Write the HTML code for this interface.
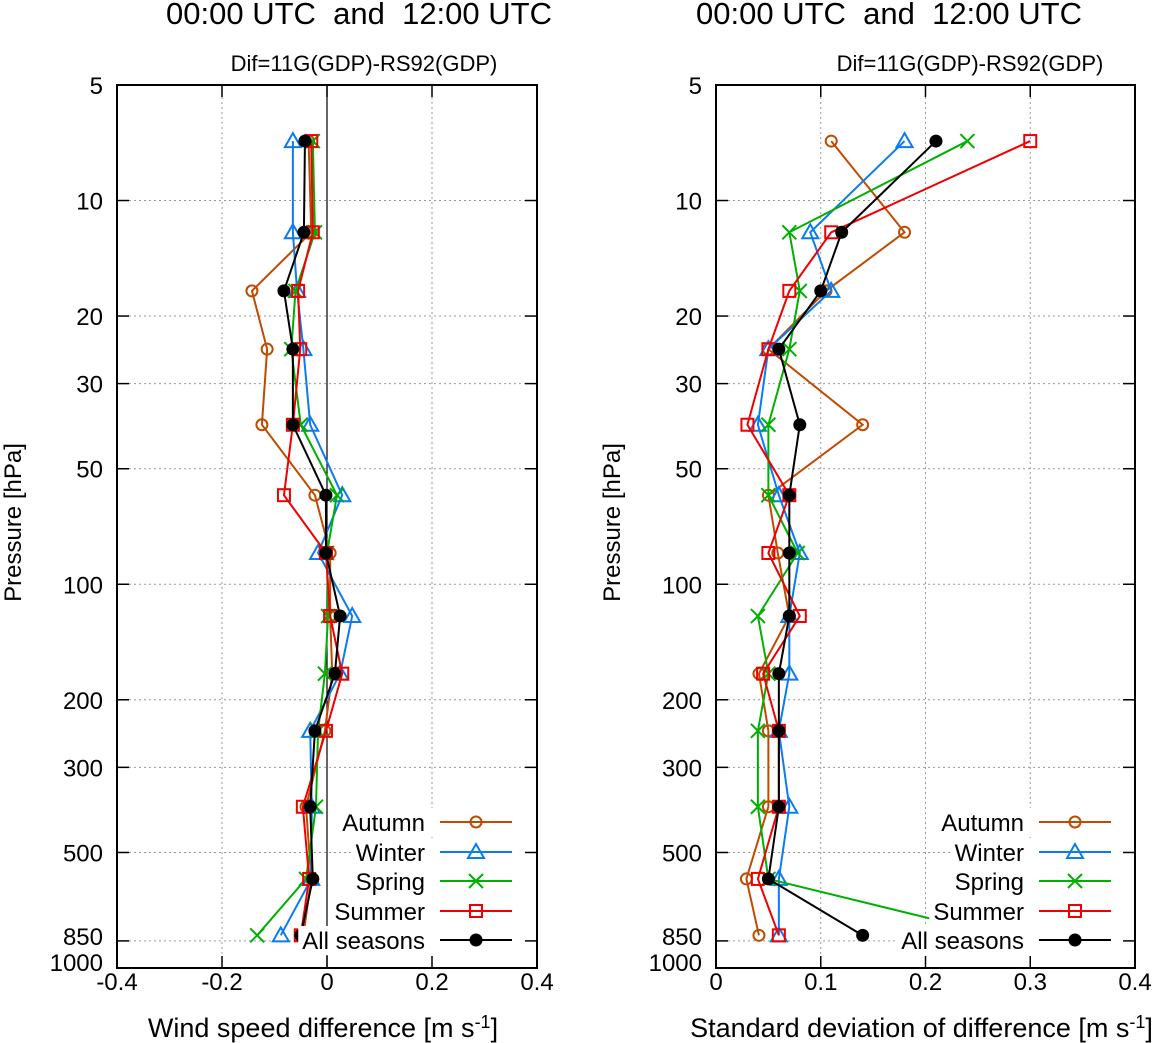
<!DOCTYPE html>
<html><head><meta charset="utf-8"><style>
html,body{margin:0;padding:0;background:#fff;}
svg{display:block;font-family:"Liberation Sans",Arial,sans-serif;}
text{white-space:pre;}
</style></head><body>
<svg id="chart" width="1154" height="1043" viewBox="0 0 1154 1043">
<g id="root"></g>
</svg>
<script>
// Shared data
const pressures = [7.0, 12.1, 17.2, 24.4, 38.4, 58.6, 82.9, 121, 171, 241, 380, 586, 822];
const seasonNames = ["Autumn", "Winter", "Spring", "Summer", "All seasons"];
const yTickValues = [5, 10, 20, 30, 50, 100, 200, 300, 500, 850, 1000];
// Left panel: mean wind speed difference
const meanAutumn = [-0.035, -0.03, -0.143, -0.114, -0.124, -0.023, 0.006, 0.006, 0.01, -0.004, -0.04, -0.03, -0.045];
const meanWinter = [-0.065, -0.065, -0.057, -0.045, -0.032, 0.029, -0.017, 0.048, 0.025, -0.032, -0.029, -0.03, -0.088];
const meanSpring = [-0.027, -0.023, -0.06, -0.068, -0.05, 0.019, 0.0, 0.002, -0.004, -0.017, -0.021, -0.04, -0.133];
const meanSummer = [-0.03, -0.027, -0.055, -0.051, -0.065, -0.082, -0.002, 0.006, 0.029, -0.002, -0.046, -0.034, -0.05];
const meanAll = [-0.042, -0.044, -0.082, -0.065, -0.065, -0.002, -0.002, 0.025, 0.015, -0.023, -0.032, -0.027, -0.05];
const leftXTicks = [-0.4, -0.2, 0, 0.2, 0.4];
const leftXLabels = ["-0.4", "-0.2", "0", "0.2", "0.4"];
// Right panel: standard deviation of difference
const sdAutumn = [0.11, 0.18, 0.105, 0.05, 0.14, 0.05, 0.059, 0.07, 0.041, 0.05, 0.05, 0.029, 0.041];
const sdWinter = [0.18, 0.09, 0.11, 0.05, 0.04, 0.06, 0.08, 0.07, 0.07, 0.06, 0.07, 0.06, 0.06];
const sdSpring = [0.24, 0.07, 0.08, 0.07, 0.05, 0.05, 0.078, 0.04, 0.05, 0.04, 0.04, 0.05, 0.27];
const sdSummer = [0.30, 0.11, 0.07, 0.05, 0.03, 0.07, 0.05, 0.08, 0.045, 0.06, 0.06, 0.04, 0.06];
const sdAll = [0.21, 0.12, 0.10, 0.06, 0.08, 0.07, 0.07, 0.07, 0.06, 0.06, 0.06, 0.05, 0.14];
const rightXTicks = [0, 0.1, 0.2, 0.3, 0.4];
const rightXLabels = ["0", "0.1", "0.2", "0.3", "0.4"];

const NS = "http://www.w3.org/2000/svg";
const root = document.getElementById("root");
const colors = ["#c04a00", "#0a7cf0", "#00b000", "#f00000", "#000000"];
const markers = ["circle", "triangle", "cross", "square", "dot"];
const TOP = 85, BOT = 968;
function yScale(p) { return TOP + (BOT - TOP) * Math.log10(p / 5) / Math.log10(1000 / 5); }
function mk(tag, attrs, parent) {
  const e = document.createElementNS(NS, tag);
  for (const k in attrs) e.setAttribute(k, attrs[k]);
  (parent || root).appendChild(e);
  return e;
}
function marker(type, x, y, c, g) {
  let e;
  if (type === "circle") e = mk("circle", {cx: x, cy: y, r: 5.5, fill: "none", stroke: c, "stroke-width": 2}, g);
  else if (type === "triangle") e = mk("polygon", {points: `${x},${y-8} ${x-8},${y+6} ${x+8},${y+6}`, fill: "none", stroke: c, "stroke-width": 2}, g);
  else if (type === "cross") e = mk("path", {d: `M${x-7},${y-7}L${x+7},${y+7}M${x-7},${y+7}L${x+7},${y-7}`, stroke: c, "stroke-width": 2}, g);
  else if (type === "square") e = mk("rect", {x: x-6, y: y-6, width: 12, height: 12, fill: "none", stroke: c, "stroke-width": 2}, g);
  else e = mk("circle", {cx: x, cy: y, r: 6.5, fill: c}, g);
  
  
  return e;
}

function panel(opt) {
  const L = opt.left, R = opt.right;
  const xScale = v => L + (v - opt.xmin) / (opt.xmax - opt.xmin) * (R - L);
  const g = mk("g", {});
  
  
  const clipId = opt.name + "-clip";
  const cp = mk("clipPath", {id: clipId}, g);
  mk("rect", {x: L, y: TOP, width: R - L, height: BOT - TOP}, cp);
  // title
  const t = mk("text", {x: opt.titleX, y: 24, "text-anchor": "middle", "font-size": 31}, g);
  t.textContent = "00:00 UTC  and  12:00 UTC";
  
  
  const st = mk("text", {x: opt.subX, y: 71, "text-anchor": "middle", "font-size": 22}, g);
  st.textContent = "Dif=11G(GDP)-RS92(GDP)";
  
  
  // grid
  const grid = mk("g", {stroke: "#999", "stroke-width": 1, "stroke-dasharray": "2,3"}, g);
  
  
  opt.xticks.forEach(v => { if (v > opt.xmin && v < opt.xmax && v !== 0) mk("line", {x1: xScale(v), x2: xScale(v), y1: TOP + 12, y2: BOT - 12}, grid); });
  yTickValues.forEach(p => { if (p > 5 && p < 1000) mk("line", {x1: L + 12, x2: R - 12, y1: yScale(p), y2: yScale(p)}, grid); });
  if (opt.zeroLine) {
    const z = mk("line", {x1: xScale(0), x2: xScale(0), y1: TOP, y2: BOT, stroke: "#000", "stroke-width": 1.2}, g);
    
    
  }
  // series
  const sg = mk("g", {"clip-path": `url(#${clipId})`}, g);
  opt.series.forEach((vals, i) => {
    const pts = vals.map((v, j) => `${xScale(v)},${yScale(pressures[j])}`).join(" ");
    const pl = mk("polyline", {points: pts, fill: "none", stroke: colors[i], "stroke-width": 2}, sg);
    
    
    vals.forEach((v, j) => marker(markers[i], xScale(v), yScale(pressures[j]), colors[i], sg));
  });
  // legend
  const lg = mk("g", {}, g);
  
  
  const rowY = [822, 852, 881, 911, 940];
  const textX = L + 308;
  seasonNames.forEach((n, i) => {
    const ent = mk("g", {}, lg);
    
    
    const tx = mk("text", {x: textX, y: rowY[i] + 9, "text-anchor": "end", "font-size": 24}, ent);
    tx.textContent = n;
    const w = tx.getComputedTextLength ? tx.getComputedTextLength() : 100;
    const bg = mk("rect", {x: textX - w - 4, y: rowY[i] - 14, width: R - (textX - w - 4) - 2, height: 29, fill: "#fff"}, ent);
    ent.insertBefore(bg, tx);
    mk("line", {x1: textX + 15, x2: textX + 87, y1: rowY[i], y2: rowY[i], stroke: colors[i], "stroke-width": 2}, ent);
    marker(markers[i], textX + 51, rowY[i], colors[i], ent);
  });
  // frame
  const fr = mk("rect", {x: L, y: TOP, width: R - L, height: BOT - TOP, fill: "none", stroke: "#000", "stroke-width": 2}, g);
  
  
  // x ticks
  const xa = mk("g", {}, g);
  
  
  opt.xticks.forEach((v, i) => {
    const x = xScale(v);
    mk("line", {x1: x, x2: x, y1: BOT, y2: BOT - 12, stroke: "#000", "stroke-width": 1.5}, xa);
    mk("line", {x1: x, x2: x, y1: TOP, y2: TOP + 12, stroke: "#000", "stroke-width": 1.5}, xa);
    const lb = mk("text", {x: x, y: 990, "text-anchor": "middle", "font-size": 24}, xa);
    lb.textContent = opt.xlabels[i];
    
    
  });
  const xt = mk("text", {x: (L + R) / 2 - 4, y: 1037, "text-anchor": "middle", "font-size": 27}, g);
  xt.innerHTML = opt.xtitle;
  
  
  // y ticks
  const ya = mk("g", {}, g);
  
  
  yTickValues.forEach(p => {
    const y = yScale(p);
    mk("line", {x1: L, x2: L + 12, y1: y, y2: y, stroke: "#000", "stroke-width": 1.5}, ya);
    mk("line", {x1: R, x2: R - 12, y1: y, y2: y, stroke: "#000", "stroke-width": 1.5}, ya);
    const yy = p === 1000 ? y + 3 : (p === 850 ? y + 4 : y + 9);
    const lb = mk("text", {x: L - 14, y: yy, "text-anchor": "end", "font-size": 24}, ya);
    lb.textContent = p;
    
    
  });
  const yt = mk("text", {x: 0, y: 0, "text-anchor": "middle", "font-size": 24, transform: `translate(${L - 96},${(TOP + BOT) / 2 - 4}) rotate(-90)`}, g);
  yt.textContent = "Pressure [hPa]";
  
  
}

panel({name: "mean-difference-panel", left: 117, right: 537, xmin: -0.4, xmax: 0.4, xticks: leftXTicks, xlabels: leftXLabels,
  titleX: 359, subX: 364,
  zeroLine: true, series: [meanAutumn, meanWinter, meanSpring, meanSummer, meanAll],
  xtitle: 'Wind speed difference [m s<tspan dy="-9" font-size="18">-1</tspan><tspan dy="9">]</tspan>'});
panel({name: "std-difference-panel", left: 716, right: 1135, xmin: 0, xmax: 0.4, xticks: rightXTicks, xlabels: rightXLabels,
  titleX: 889, subX: 970,
  zeroLine: false, series: [sdAutumn, sdWinter, sdSpring, sdSummer, sdAll],
  xtitle: 'Standard deviation of difference [m s<tspan dy="-9" font-size="18">-1</tspan><tspan dy="9">]</tspan>'});
</script>
</body></html>
